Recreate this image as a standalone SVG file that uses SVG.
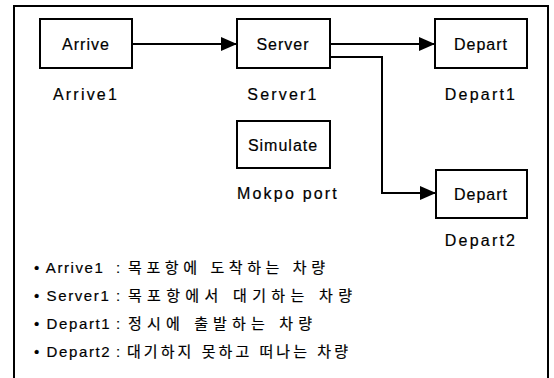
<svg xmlns="http://www.w3.org/2000/svg" width="554" height="378" viewBox="0 0 554 378">
  <defs>
    <marker id="arrow" viewBox="0 0 16 14" refX="16" refY="7" markerWidth="16" markerHeight="14" markerUnits="userSpaceOnUse" orient="auto">
      <path d="M0,0 L16,7 L0,14 Z" fill="#000"/>
    </marker>
  </defs>
  <style>
    .box { fill: #fff; stroke: #000; stroke-width: 2; }
    .frame { fill: none; stroke: #000; stroke-width: 2; }
    .link { fill: none; stroke: #000; stroke-width: 2; marker-end: url(#arrow); }
    text { font-family: "Liberation Sans", "Noto Sans CJK KR", sans-serif; fill: #000; stroke: #000; stroke-width: 0.2; }
    .in { font-size: 16px; text-anchor: middle; letter-spacing: 1px; }
    .lbl { font-size: 16px; text-anchor: middle; letter-spacing: 2.2px; }
    .key { font-size: 15px; letter-spacing: 1.6px; }
    .ko { font-size: 15px; }
  </style>

  <rect width="554" height="378" fill="#fff"/>
  <rect class="frame" x="14" y="6" width="534" height="380"/>

  <g id="connectors">
    <line class="link" x1="132" y1="44" x2="237" y2="44"/>
    <line class="link" x1="330" y1="44" x2="435" y2="44"/>
    <polyline class="link" points="330,57 382,57 382,193 436,193"/>
  </g>

  <g id="arrive1">
    <rect class="box" x="40" y="19" width="92" height="49"/>
    <text class="in" x="86" y="50">Arrive</text>
    <text class="lbl" x="86" y="100">Arrive1</text>
  </g>

  <g id="server1">
    <rect class="box" x="237" y="19" width="93" height="49"/>
    <text class="in" x="283" y="50">Server</text>
    <text class="lbl" x="283" y="100">Server1</text>
  </g>

  <g id="depart1">
    <rect class="box" x="435" y="19" width="92" height="49"/>
    <text class="in" x="481" y="50">Depart</text>
    <text class="lbl" x="481" y="100">Depart1</text>
  </g>

  <g id="mokpo-port">
    <rect class="box" x="237" y="121" width="93" height="47"/>
    <text class="in" x="283" y="151">Simulate</text>
    <text class="lbl" x="288" y="199">Mokpo port</text>
  </g>

  <g id="depart2">
    <rect class="box" x="436" y="170" width="91" height="48"/>
    <text class="in" x="481" y="200">Depart</text>
    <text class="lbl" x="481" y="246">Depart2</text>
  </g>

  <g id="legend">
    <text class="key" x="34" y="273">• Arrive1</text>
    <text class="key" x="116" y="273">:</text>
    <text class="ko" x="128" y="273" textLength="197" lengthAdjust="spacing">목포항에 도착하는 차량</text>
    <text class="key" x="34" y="301">• Server1</text>
    <text class="key" x="116" y="301">:</text>
    <text class="ko" x="128" y="301" textLength="224" lengthAdjust="spacing">목포항에서 대기하는 차량</text>
    <text class="key" x="34" y="329">• Depart1</text>
    <text class="key" x="116" y="329">:</text>
    <text class="ko" x="128" y="329" textLength="184" lengthAdjust="spacing">정시에 출발하는 차량</text>
    <text class="key" x="34" y="357">• Depart2</text>
    <text class="key" x="116" y="357">:</text>
    <text class="ko" x="127" y="357" textLength="221" lengthAdjust="spacing">대기하지 못하고 떠나는 차량</text>
  </g>
</svg>
